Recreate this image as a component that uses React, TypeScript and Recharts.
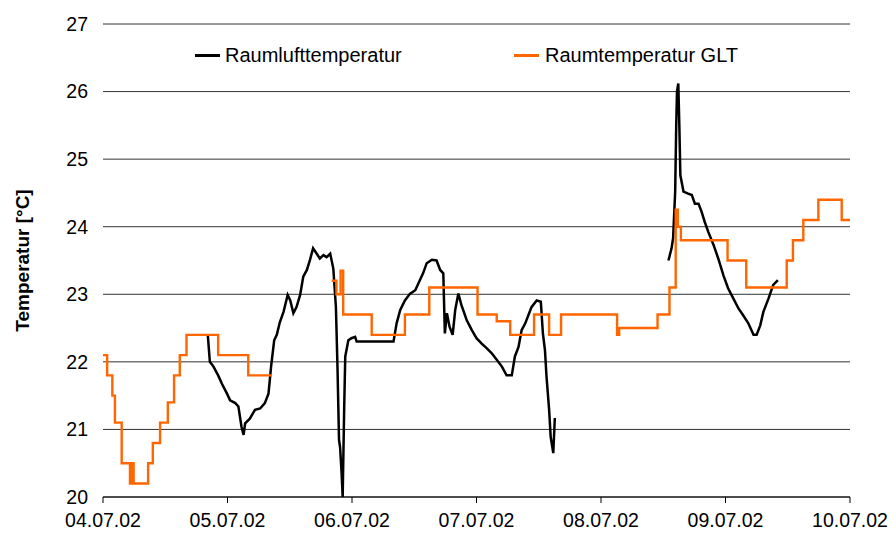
import { LineChart, Line, XAxis, YAxis, CartesianGrid } from "recharts";

// hours since 04.07.02 00:00
const dateLabels = ["04.07.02", "05.07.02", "06.07.02", "07.07.02", "08.07.02", "09.07.02", "10.07.02"];
const xTicks = [0, 24, 48, 72, 96, 120, 144];
const yTicks = [20, 21, 22, 23, 24, 25, 26, 27];

// Raumlufttemperatur (measured), two runs with a gap between them
const luftHours1 = [
  20.2, 20.6, 21.3, 22.2, 22.9, 23.9, 24.5, 25.5, 26.1, 26.7, 27.1, 27.4, 28.3, 29.3, 30.3, 31.2, 31.9, 32.4,
  33.0, 33.5, 34.1, 34.8, 35.6, 36.1, 36.7, 37.3, 38.0, 38.6, 39.3, 39.9, 40.5, 41.2, 41.8, 42.5, 43.1, 43.8,
  44.4, 44.9, 45.2, 45.5, 45.7, 46.0, 46.2, 46.5, 46.7, 47.3, 47.9, 48.6, 48.9, 56.0, 56.6, 57.3, 58.2, 59.2,
  60.2, 61.1, 61.7, 62.4, 63.4, 64.3, 65.0, 65.6, 65.9, 66.3, 66.8, 67.4, 67.9, 68.5, 69.1, 70.1, 71.1, 72.0,
  73.0, 74.0, 74.9, 75.9, 76.9, 77.8, 78.8, 79.4, 80.1, 80.7, 81.4, 82.0, 82.6, 83.6, 84.4, 84.8, 85.2, 85.5,
  86.0, 86.3, 86.8, 87.1,
];
const luftTemps1 = [
  22.4, 22.0, 21.93, 21.8, 21.68, 21.53, 21.43, 21.39, 21.34, 21.04, 20.92, 21.09, 21.16, 21.29, 21.31, 21.39,
  21.53, 21.93, 22.32, 22.4, 22.59, 22.74, 22.99, 22.91, 22.72, 22.81, 22.99, 23.26, 23.36, 23.51, 23.68, 23.6,
  23.53, 23.58, 23.55, 23.6, 23.38, 22.81, 21.93, 20.84, 20.74, 20.35, 20.0, 21.34, 22.08, 22.32, 22.35, 22.37,
  22.3, 22.3, 22.57, 22.77, 22.91, 23.01, 23.06, 23.21, 23.31, 23.46, 23.51, 23.5, 23.36, 23.31, 22.42, 22.72,
  22.52, 22.4, 22.77, 23.01, 22.84, 22.62, 22.47, 22.35, 22.27, 22.2, 22.13, 22.03, 21.93, 21.8, 21.8, 22.08,
  22.22, 22.47, 22.57, 22.69, 22.81, 22.91, 22.89, 22.42, 22.17, 21.78, 21.29, 20.89, 20.65, 21.17,
];
const luftHours2 = [
  109.0, 109.6, 109.9, 110.3, 110.5, 110.65, 110.9, 111.1, 111.3, 111.9, 112.8, 113.5, 114.1, 114.8, 115.4,
  116.0, 116.7, 117.7, 118.6, 119.6, 120.5, 121.5, 122.5, 123.4, 124.4, 125.4, 126.0, 126.7, 127.3, 128.3,
  129.2, 130.1,
];
const luftTemps2 = [
  23.5, 23.68, 23.83, 24.52, 25.5, 26.0, 26.12, 25.5, 24.76, 24.52, 24.49, 24.47, 24.34, 24.34, 24.22, 24.07,
  23.92, 23.73, 23.53, 23.28, 23.09, 22.94, 22.79, 22.69, 22.57, 22.4, 22.4, 22.54, 22.74, 22.94, 23.14, 23.21,
];

// Raumtemperatur GLT (building control), step values
const gltHours1 = [0, 0.8, 1.8, 2.3, 3.6, 5.2, 5.5, 5.9, 8.7, 9.6, 11.0, 12.5, 13.7, 14.8, 16.1, 22.2, 28.0, 32.5];
const gltTemps1 = [22.1, 21.8, 21.5, 21.1, 20.5, 20.2, 20.5, 20.2, 20.5, 20.8, 21.1, 21.4, 21.8, 22.1, 22.4, 22.1, 21.8, 21.8];
const gltHours2 = [
  44.1, 45.0, 45.8, 46.3, 51.8, 58.2, 62.9, 72.2, 75.9, 78.5, 83.1, 86.0, 88.3, 99.1, 99.5, 106.9, 109.2, 110.4,
  110.8, 111.4, 120.4, 124.0, 131.8, 133.0, 135.0, 137.9, 142.4, 144.0,
];
const gltTemps2 = [
  23.2, 23.0, 23.35, 22.7, 22.4, 22.7, 23.1, 22.7, 22.6, 22.4, 22.7, 22.4, 22.7, 22.4, 22.5, 22.7, 23.1, 24.25,
  24.0, 23.8, 23.5, 23.1, 23.5, 23.8, 24.1, 24.4, 24.1, 24.1,
];

const zip = (hours: number[], temps: number[]) => hours.map((h, i) => ({ h, t: temps[i] as number | null }));

const luftData = [...zip(luftHours1, luftTemps1), { h: 98, t: null }, ...zip(luftHours2, luftTemps2)];
const gltData = [...zip(gltHours1, gltTemps1), { h: 38, t: null }, ...zip(gltHours2, gltTemps2)];

const FONT = "'Liberation Sans', Arial, sans-serif";

const App = () => {
  return (
    <div style={{ position: "relative", width: 890, height: 534, fontFamily: FONT }}>
      <style>{`body { margin: 0; }`}</style>
      <LineChart width={890} height={534} margin={{ top: 24, right: 40, bottom: 7, left: 43 }}>
        <CartesianGrid vertical={false} stroke="#333" />
        <XAxis
          type="number"
          dataKey="h"
          domain={[0, 144]}
          ticks={xTicks}
          tickFormatter={(v) => dateLabels[xTicks.indexOf(v)]}
          tick={{ fontSize: 19.5, fill: "#000", fontFamily: FONT }}
          axisLine={{ stroke: "#000" }}
          tickLine={{ stroke: "#000" }}
          tickSize={6}
          tickMargin={10}
          allowDuplicatedCategory={false}
        />
        <YAxis
          type="number"
          domain={[20, 27]}
          ticks={yTicks}
          width={60}
          tick={{ fontSize: 19.5, fill: "#000", fontFamily: FONT }}
          axisLine={false}
          tickLine={false}
          tickSize={6}
          tickMargin={9}
          label={{
            value: "Temperatur [°C]",
            angle: -90,
            position: "center",
            dx: -51,
            style: { fontSize: 19, fontWeight: "bold", fill: "#000", fontFamily: FONT, textAnchor: "middle" },
          }}
        />
        <Line
          data={luftData}
          dataKey="t"
          type="linear"
          stroke="#000"
          strokeWidth={2.5}
          dot={false}
          isAnimationActive={false}
        />
        <Line
          data={gltData}
          dataKey="t"
          type="stepAfter"
          stroke="#ff6600"
          strokeWidth={2.4}
          dot={false}
          isAnimationActive={false}
        />
      </LineChart>
      <div style={{ position: "absolute", top: 44, left: 195, display: "flex", alignItems: "center", fontSize: 20 }}>
        <span style={{ display: "inline-block", width: 25, height: 3, background: "#000", marginRight: 5 }} />
        Raumlufttemperatur
      </div>
      <div style={{ position: "absolute", top: 44, left: 514, display: "flex", alignItems: "center", fontSize: 20 }}>
        <span style={{ display: "inline-block", width: 25, height: 3, background: "#ff6600", marginRight: 6 }} />
        Raumtemperatur GLT
      </div>
    </div>
  );
};

export default App;
